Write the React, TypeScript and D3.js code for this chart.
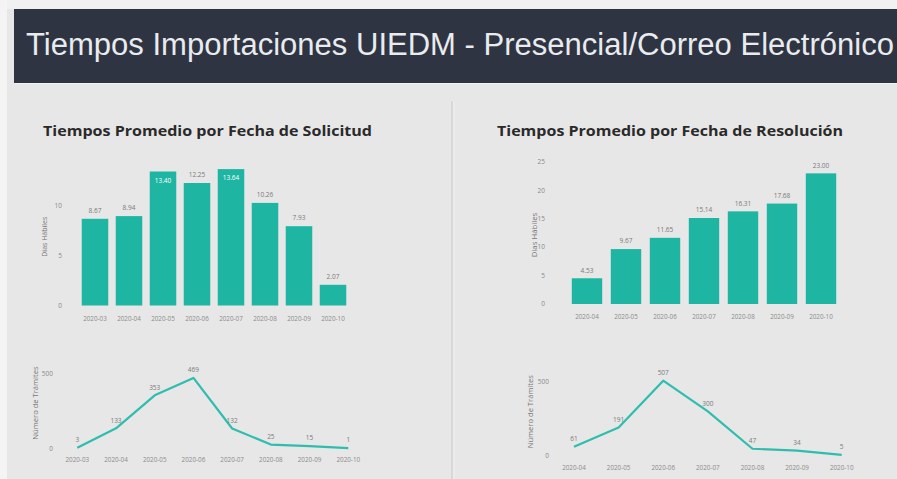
import React from "react";
import * as d3 from "d3";

const W = 897;
const H = 479;

const TITLE = "Tiempos Importaciones UIEDM - Presencial/Correo Electrónico";
const SUB_LEFT = "Tiempos Promedio por Fecha de Solicitud";
const SUB_RIGHT = "Tiempos Promedio por Fecha de Resolución";
const Y_BAR_TITLE = "Días Hábiles";
const Y_LINE_TITLE = "Número de Trámites";

const solicitudMonths = ["2020-03", "2020-04", "2020-05", "2020-06", "2020-07", "2020-08", "2020-09", "2020-10"];
const solicitudDays = [8.67, 8.94, 13.4, 12.25, 13.64, 10.26, 7.93, 2.07];
const solicitudCount = [3, 133, 353, 469, 132, 25, 15, 1];

const resolucionMonths = ["2020-04", "2020-05", "2020-06", "2020-07", "2020-08", "2020-09", "2020-10"];
const resolucionDays = [4.53, 9.67, 11.65, 15.14, 16.31, 17.68, 23.0];
const resolucionCount = [61, 191, 507, 300, 47, 34, 5];

const leftBarTicks = [0, 5, 10];
const rightBarTicks = [0, 5, 10, 15, 20, 25];
const lineTicks = [0, 500];

const TEAL = "#1fb5a3";
const LINE = "#2fbdae";
const FONT = "'Open Sans', 'Noto Sans', sans-serif";

type BarProps = {
  cats: string[];
  vals: number[];
  x0: number;
  x1: number;
  y0: number;
  y1: number;
  max: number;
  ticks: number[];
  tickX: number;
  titleX: number;
  titleY: number;
  titleSize: number;
  xLabelY: number;
  insideLimit: number;
};

function BarChart(p: BarProps) {
  const x = d3.scaleBand<string>().domain(p.cats).range([p.x0, p.x1]).paddingInner(0.22).paddingOuter(0.11);
  const y = d3.scaleLinear().domain([0, p.max]).range([p.y0, p.y1]);
  return (
    <g>
      {p.ticks.map((t) => (
        <text key={t} x={p.tickX} y={y(t)} dy="0.35em" textAnchor="end" fontSize={6.5} fill="#8a8a8a" fontFamily={FONT}>
          {t}
        </text>
      ))}
      <text
        transform={`translate(${p.titleX},${p.titleY}) rotate(-90)`}
        textAnchor="middle"
        dy="0.35em"
        fontSize={p.titleSize}
        fill="#777"
        fontFamily={FONT}
      >
        {Y_BAR_TITLE}
      </text>
      {p.cats.map((c, i) => {
        const v = p.vals[i];
        const top = y(v);
        const inside = top - 12 < p.insideLimit;
        return (
          <g key={c}>
            <rect x={x(c)} y={top} width={x.bandwidth()} height={y(0) - top} fill={TEAL} />
            <text
              x={(x(c) as number) + x.bandwidth() / 2}
              y={inside ? top + 9 : top - 8}
              dy="0.35em"
              textAnchor="middle"
              fontSize={6.5}
              fill={inside ? "#ffffff" : "#7a7a7a"}
              fontFamily={FONT}
            >
              {v.toFixed(2)}
            </text>
            <text
              x={(x(c) as number) + x.bandwidth() / 2}
              y={p.xLabelY}
              dy="0.35em"
              textAnchor="middle"
              fontSize={6.3}
              fill="#8a8a8a"
              fontFamily={FONT}
            >
              {c}
            </text>
          </g>
        );
      })}
    </g>
  );
}

type LineProps = {
  cats: string[];
  vals: number[];
  x0: number;
  x1: number;
  y0: number;
  y1: number;
  tickX: number;
  titleX: number;
  titleY: number;
  xLabelY: number;
};

function LineChart(p: LineProps) {
  const x = d3.scalePoint<string>().domain(p.cats).range([p.x0, p.x1]);
  const y = d3.scaleLinear().domain([0, 500]).range([p.y0, p.y1]);
  const line = d3
    .line<number>()
    .x((_, i) => x(p.cats[i]) as number)
    .y((d) => y(d));
  return (
    <g>
      {lineTicks.map((t) => (
        <text key={t} x={p.tickX} y={y(t)} dy="0.35em" textAnchor="end" fontSize={6.5} fill="#8a8a8a" fontFamily={FONT}>
          {t}
        </text>
      ))}
      <text
        transform={`translate(${p.titleX},${p.titleY}) rotate(-90)`}
        textAnchor="middle"
        dy="0.35em"
        fontSize={7.6}
        fill="#777"
        fontFamily={FONT}
      >
        {Y_LINE_TITLE}
      </text>
      <path d={line(p.vals) || ""} fill="none" stroke={LINE} strokeWidth={2.2} strokeLinejoin="round" />
      {p.cats.map((c, i) => (
        <g key={c}>
          <text
            x={x(c) as number}
            y={y(p.vals[i]) - 8}
            dy="0.35em"
            textAnchor="middle"
            fontSize={6.5}
            fill="#7a7a7a"
            fontFamily={FONT}
          >
            {p.vals[i]}
          </text>
          <text x={x(c) as number} y={p.xLabelY} dy="0.35em" textAnchor="middle" fontSize={6.3} fill="#8a8a8a" fontFamily={FONT}>
            {c}
          </text>
        </g>
      ))}
    </g>
  );
}

export default function App() {
  return (
    <div style={{ position: "fixed", left: 0, top: 0, width: W, height: H }}>
      <svg width={W} height={H} viewBox={`0 0 ${W} ${H}`} style={{ display: "block" }}>
        <rect x={0} y={0} width={W} height={H} fill="#e7e7e7" />
        <rect x={0} y={0} width={W} height={9} fill="#f1f1f1" />
        <rect x={0} y={0} width={7} height={H} fill="#f4f4f4" />
        <rect x={14} y={9} width={W - 14} height={74} fill="#2e3441" />
        <line x1={14} x2={W} y1={83.5} y2={83.5} stroke="#f2f2f2" strokeWidth={1} />
        <text
          x={26}
          y={54.5}
          fontSize={31}
          fill="#e9ebef"
          fontFamily="'Liberation Sans', Arial, sans-serif"
          textLength={868}
          lengthAdjust="spacingAndGlyphs"
        >
          {TITLE}
        </text>

        <line x1={452} x2={452} y1={101} y2={H} stroke="#d3d3d3" strokeWidth={1.5} />
        <line x1={454} x2={454} y1={101} y2={H} stroke="#f0f0f0" strokeWidth={1} />

        <text x={43} y={135.7} fontSize={14} fontWeight={700} fill="#2a2a2a" fontFamily={FONT} textLength={329} lengthAdjust="spacingAndGlyphs">
          {SUB_LEFT}
        </text>
        <text x={497} y={135.7} fontSize={14} fontWeight={700} fill="#2a2a2a" fontFamily={FONT} textLength={346} lengthAdjust="spacingAndGlyphs">
          {SUB_RIGHT}
        </text>

        <BarChart
          cats={solicitudMonths}
          vals={solicitudDays}
          x0={78}
          x1={350}
          y0={305.5}
          y1={165.5}
          max={14}
          ticks={leftBarTicks}
          tickX={62}
          titleX={45}
          titleY={236.7}
          titleSize={7}
          xLabelY={319}
          insideLimit={160}
        />
        <BarChart
          cats={resolucionMonths}
          vals={resolucionDays}
          x0={567.5}
          x1={840.5}
          y0={304}
          y1={162}
          max={25}
          ticks={rightBarTicks}
          tickX={545}
          titleX={534}
          titleY={235}
          titleSize={7.8}
          xLabelY={316.7}
          insideLimit={140}
        />

        <LineChart
          cats={solicitudMonths}
          vals={solicitudCount}
          x0={77.3}
          x1={348.3}
          y0={448.3}
          y1={373.3}
          tickX={53}
          titleX={35}
          titleY={403}
          xLabelY={460}
        />
        <LineChart
          cats={resolucionMonths}
          vals={resolucionCount}
          x0={574}
          x1={841.7}
          y0={455.7}
          y1={381.7}
          tickX={549}
          titleX={530}
          titleY={411.7}
          xLabelY={467.7}
        />
      </svg>
    </div>
  );
}
